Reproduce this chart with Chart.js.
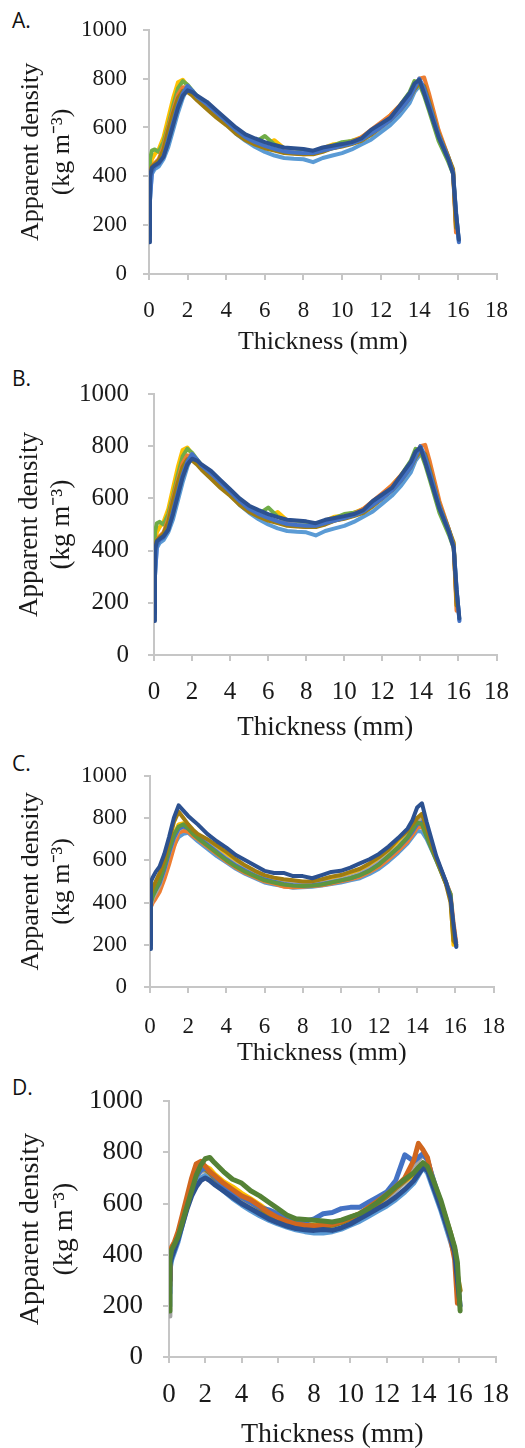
<!DOCTYPE html>
<html>
<head>
<meta charset="utf-8">
<script src="https://cdn.jsdelivr.net/npm/chart.js@4.4.1/dist/chart.umd.min.js"></script>
<style>
  body { margin: 0; background: #fff; width: 525px; height: 1448px; position: relative; overflow: hidden; }
  .panel { position: absolute; left: 0; width: 525px; }
  .tag { position: absolute; left: 12px; font-family: "Open Sans", "Liberation Sans", sans-serif; font-size: 21px; color: #111; line-height: 1; }
</style>
</head>
<body>
<div class="tag" style="top:10px">A.</div>
<div class="tag" style="top:368px">B.</div>
<div class="tag" style="top:753px">C.</div>
<div class="tag" style="top:1077px">D.</div>
<div class="panel" style="top:0;height:360px"><canvas id="chartA"></canvas></div>
<div class="panel" style="top:360px;height:385px"><canvas id="chartB"></canvas></div>
<div class="panel" style="top:745px;height:320px"><canvas id="chartC"></canvas></div>
<div class="panel" style="top:1065px;height:390px"><canvas id="chartD"></canvas></div>
<script>
// thickness positions (mm) shared by every profile
const thickness = [0, 0.05, 0.15, 0.3, 0.5, 0.75, 1.0, 1.25, 1.5, 1.75, 2.0, 2.25, 2.5, 3.0, 3.5, 4.0, 4.5, 5.0, 5.5, 6.0, 6.5, 7.0, 7.5, 8.0, 8.5, 9.0, 9.5, 10.0, 10.5, 11.0, 11.5, 12.0, 12.5, 13.0, 13.5, 13.75, 14.0, 14.25, 14.5, 15.0, 15.5, 15.75, 15.9, 16.05];
const xTicks = [0, 2, 4, 6, 8, 10, 12, 14, 16, 18];
const yTicks = [0, 200, 400, 600, 800, 1000];

// panel A and B (same profiles), drawn bottom -> top
const colorsA = ["#5B9BD5", "#FFC000", "#70AD47", "#A5A5A5", "#ED7D31", "#A07C10", "#4472C4", "#2C5190"];
const seriesA = [
  [220, 300, 410, 430, 440, 470, 520, 590, 660, 720, 765, 750, 725, 690, 650, 615, 575, 545, 520, 500, 485, 475, 472, 470, 458, 475, 485, 495, 510, 530, 550, 580, 610, 650, 700, 745, 770, 750, 700, 580, 480, 420, 250, 135],
  [300, 420, 470, 490, 510, 560, 640, 720, 785, 795, 770, 745, 725, 690, 655, 625, 590, 560, 545, 530, 548, 515, 505, 498, 500, 515, 530, 535, 545, 560, 585, 615, 650, 690, 740, 770, 785, 755, 690, 560, 470, 420, 220, null],
  [250, 470, 505, 510, 500, 540, 610, 690, 760, 790, 775, 750, 728, 690, 650, 620, 585, 560, 540, 565, 530, 512, 505, 500, 498, 510, 525, 540, 545, 555, 580, 610, 645, 690, 745, 790, 780, 730, 670, 545, 460, 410, 210, null],
  [350, 420, 430, 440, 460, 500, 570, 640, 710, 760, 770, 740, 715, 680, 645, 615, 585, 560, 540, 525, 512, 505, 500, 495, 495, 505, 515, 525, 535, 550, 575, 605, 635, 675, 720, 760, 790, 760, 700, 570, 475, 415, 200, null],
  [280, 400, 440, 455, 470, 520, 600, 670, 735, 765, 760, 740, 720, 690, 650, 620, 585, 560, 538, 522, 510, 502, 495, 490, 492, 505, 520, 530, 540, 560, 590, 620, 650, 690, 735, 765, 800, 805, 740, 590, 480, 420, 170, null],
  [300, 410, 440, 450, 465, 510, 590, 660, 720, 750, 745, 730, 710, 675, 640, 610, 575, 548, 530, 515, 505, 495, 492, 490, 490, 500, 515, 522, 532, 545, 570, 600, 630, 670, 720, 755, 780, 770, 710, 575, 480, 430, 190, null],
  [160, 300, 420, 440, 450, 480, 550, 620, 690, 740, 770, 750, 725, 695, 660, 625, 590, 560, 540, 525, 512, 502, 498, 495, 495, 505, 515, 525, 535, 550, 575, 600, 630, 670, 720, 760, 800, 760, 700, 570, 475, 415, 260, 130],
  [130, 400, 435, 445, 455, 480, 540, 610, 680, 730, 752, 745, 730, 705, 670, 635, 600, 572, 555, 540, 528, 518, 515, 512, 505, 518, 525, 532, 540, 555, 590, 615, 640, 690, 740, 780, 795, 740, 680, 560, 470, 410, 250, 140]
];

// panel C
const colorsC = ["#5B9BD5", "#ED7D31", "#FFC000", "#A5A5A5", "#4472C4", "#5E9640", "#A07C10", "#2C5190"];
const seriesC = [
  [250, 380, 410, 430, 460, 520, 600, 670, 710, 725, 730, 710, 690, 655, 620, 590, 560, 535, 515, 495, 485, 478, 470, 472, 475, 480, 488, 495, 505, 515, 535, 560, 595, 635, 680, 710, 740, 735, 700, 600, 495, 430, 250, 190],
  [350, 380, 400, 420, 450, 510, 580, 660, 730, 740, 735, 715, 700, 665, 630, 595, 565, 540, 520, 500, 490, 475, 472, 475, 478, 482, 490, 500, 510, 522, 545, 570, 605, 645, 690, 720, 755, 760, 720, 610, 500, 440, 310, 210],
  [280, 400, 430, 455, 490, 560, 640, 720, 770, 775, 760, 740, 720, 690, 660, 625, 590, 560, 535, 515, 505, 495, 490, 488, 490, 498, 508, 518, 530, 545, 570, 600, 640, 685, 730, 760, 790, 800, 740, 610, 495, 420, 200, null],
  [200, 390, 420, 445, 480, 550, 630, 700, 745, 760, 755, 735, 715, 680, 645, 610, 580, 555, 530, 512, 500, 492, 488, 485, 487, 492, 500, 510, 522, 537, 560, 590, 625, 665, 715, 750, 790, 805, 740, 610, 495, 430, 260, null],
  [220, 410, 440, 460, 490, 555, 635, 705, 750, 760, 750, 730, 710, 675, 640, 605, 575, 550, 528, 510, 498, 488, 482, 480, 482, 488, 496, 505, 515, 530, 552, 582, 618, 658, 705, 735, 770, 780, 730, 610, 500, 430, 280, 200],
  [300, 400, 430, 460, 500, 570, 650, 720, 760, 770, 750, 725, 705, 670, 635, 600, 570, 545, 525, 505, 495, 485, 480, 478, 480, 485, 495, 505, 515, 530, 550, 580, 620, 660, 710, 745, 780, 770, 710, 600, 490, 440, 250, null],
  [300, 440, 470, 500, 540, 600, 690, 780, 830, 800, 770, 745, 725, 700, 670, 640, 605, 575, 550, 530, 518, 510, 505, 500, 500, 510, 522, 530, 545, 560, 585, 615, 650, 700, 740, 770, 800, 820, 750, 610, 490, 400, 220, 200],
  [180, 500, 520, 545, 570, 630, 710, 800, 860, 835, 810, 790, 770, 725, 690, 660, 625, 600, 575, 550, 540, 540, 525, 525, 515, 530, 545, 550, 565, 585, 605, 630, 665, 705, 750, 790, 850, 870, 780, 620, 500, 420, 300, 190]
];

// panel D
const colorsD = ["#5B9BD5", "#FFC000", "#A5A5A5", "#A07C10", "#4472C4", "#D0661E", "#2C5190", "#548235"];
const seriesD = [
  [200, 340, 380, 410, 450, 520, 590, 640, 680, 700, 710, 700, 680, 650, 620, 595, 572, 552, 535, 520, 508, 497, 490, 485, 485, 490, 500, 515, 530, 550, 570, 590, 615, 645, 680, 710, 740, 720, 670, 570, 455, 400, 290, null],
  [320, 400, 420, 440, 475, 540, 610, 675, 720, 740, 745, 735, 715, 685, 665, 640, 618, 595, 570, 550, 535, 525, 518, 515, 515, 520, 530, 545, 560, 578, 600, 625, 655, 685, 715, 735, 755, 745, 700, 595, 475, 410, 320, null],
  [160, 380, 410, 435, 470, 535, 600, 660, 705, 725, 730, 720, 700, 670, 645, 620, 600, 578, 558, 540, 528, 518, 512, 508, 510, 515, 525, 540, 555, 575, 595, 620, 650, 685, 730, 770, 790, 770, 710, 600, 480, 420, 330, null],
  [280, 390, 415, 440, 478, 545, 615, 680, 725, 740, 735, 720, 700, 672, 650, 625, 605, 582, 560, 542, 530, 520, 515, 513, 512, 515, 525, 540, 555, 575, 600, 628, 660, 690, 720, 740, 755, 740, 695, 600, 490, 420, 320, 260],
  [250, 370, 400, 430, 465, 530, 600, 660, 705, 730, 740, 725, 705, 670, 645, 625, 605, 585, 575, 560, 548, 535, 530, 540, 560, 565, 580, 585, 585, 605, 625, 645, 690, 790, 765, 780, 795, 770, 710, 590, 470, 410, 300, null],
  [300, 400, 430, 450, 490, 560, 630, 700, 755, 765, 745, 725, 710, 680, 655, 630, 615, 590, 565, 545, 530, 520, 515, 512, 515, 520, 530, 545, 560, 585, 610, 635, 665, 700, 770, 835, 810, 780, 700, 590, 470, 380, 210, null],
  [300, 360, 390, 420, 460, 520, 580, 630, 665, 690, 700, 690, 675, 650, 625, 600, 580, 560, 540, 525, 512, 502, 497, 495, 498, 495, 505, 520, 540, 560, 580, 600, 625, 655, 690, 715, 740, 730, 680, 580, 470, 410, 300, 200],
  [180, 380, 420, 440, 470, 530, 590, 650, 710, 750, 775, 780, 760, 725, 695, 680, 650, 630, 605, 580, 555, 540, 538, 535, 532, 528, 535, 548, 560, 580, 605, 635, 665, 695, 720, 740, 760, 745, 705, 610, 490, 430, 370, 180]
];

const serif = "'Liberation Serif', 'Times New Roman', serif";
const axisGray = "#C6C6C6";

function makePanel(id, series, colors, box) {
  const canvas = document.getElementById(id);
  canvas.width = 525;
  canvas.height = box.h;
  const xh = box.xTitleY + box.titleSize * 0.6 - box.bottom;
  const datasets = series.map((vals, i) => ({
    data: vals.map((v, j) => ({ x: thickness[j], y: v })),
    borderColor: colors[i],
    borderWidth: box.lw,
    borderJoinStyle: "round",
    borderCapStyle: "round",
    pointRadius: 0,
    tension: 0,
    spanGaps: false,
    order: series.length - i
  }));
  return new Chart(canvas, {
    type: "line",
    data: { datasets },
    options: {
      responsive: false,
      animation: false,
      events: [],
      layout: { padding: { left: 0, right: 525 - box.right, top: box.top, bottom: box.h - box.bottom - xh } },
      plugins: { legend: { display: false }, tooltip: { enabled: false } },
      scales: {
        x: {
          type: "linear", min: 0, max: 18,
          afterBuildTicks: s => { s.ticks = xTicks.map(v => ({ value: v })); },
          afterFit: s => { s.height = xh; },
          grid: { drawOnChartArea: false, drawTicks: true, tickLength: 6, color: axisGray, lineWidth: 2 },
          border: { color: axisGray, width: 2 },
          ticks: { color: "#1a1a1a", padding: box.xPad, maxRotation: 0, callback: v => String(v), font: { family: serif, size: box.tickSize } },
          title: { display: true, text: "Thickness (mm)", color: "#1a1a1a", padding: 0, font: { family: serif, size: box.titleSize, lineHeight: 1.2 } }
        },
        y: {
          min: 0, max: 1000,
          afterBuildTicks: s => { s.ticks = yTicks.map(v => ({ value: v })); },
          afterFit: s => { s.width = box.left; },
          grid: { drawOnChartArea: false, drawTicks: true, tickLength: 6, color: axisGray, lineWidth: 2 },
          border: { color: axisGray, width: 2 },
          ticks: { color: "#1a1a1a", padding: box.yPad, callback: v => String(v), font: { family: serif, size: box.tickSize } },
          title: {
            display: true, text: ["Apparent density", "(kg m\u207B\u00B3)"], color: "#1a1a1a",
            padding: { top: box.yTitleX - box.titleSize * 0.6, bottom: 0 },
            font: { family: serif, size: box.titleSize, lineHeight: 1.2 }
          }
        }
      }
    }
  });
}

function drawAll() {
  makePanel("chartA", seriesA, colorsA, { h: 360, left: 149, right: 506, top: 26, bottom: 274, xTitleY: 342, yTitleX: 31, tickSize: 23, titleSize: 26, xPad: 17, yPad: 16, lw: 4 });
  makePanel("chartB", seriesA, colorsA, { h: 385, left: 154, right: 507, top: 18, bottom: 295, xTitleY: 368, yTitleX: 30, tickSize: 25, titleSize: 27, xPad: 16, yPad: 19, lw: 4 });
  makePanel("chartC", seriesC, colorsC, { h: 320, left: 150, right: 507, top: 22, bottom: 242, xTitleY: 308, yTitleX: 31, tickSize: 23, titleSize: 26, xPad: 20, yPad: 17, lw: 4 });
  makePanel("chartD", seriesD, colorsD, { h: 390, left: 169, right: 505, top: 28, bottom: 292, xTitleY: 370, yTitleX: 31, tickSize: 27, titleSize: 28, xPad: 16, yPad: 20, lw: 5 });
}

Promise.all([
  document.fonts.load("25px 'Liberation Serif'"),
  document.fonts.load("20px 'Open Sans'")
]).then(drawAll, drawAll);
</script>
</body>
</html>
